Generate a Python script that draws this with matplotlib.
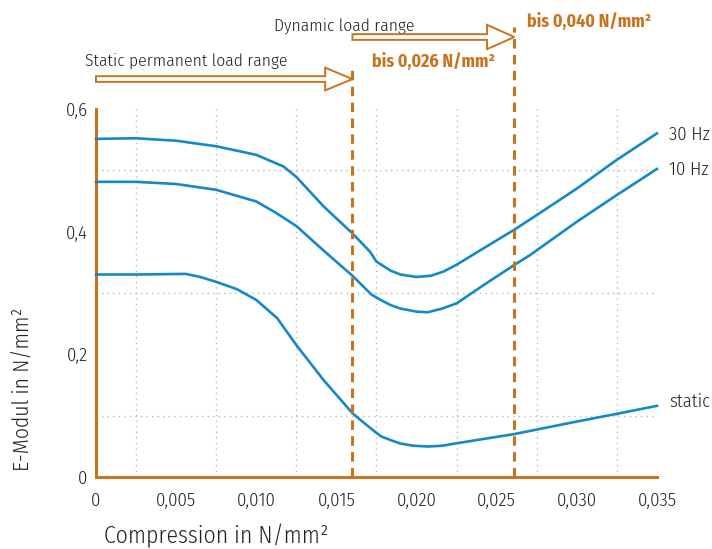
import matplotlib
matplotlib.use('Agg')
import matplotlib.pyplot as plt
from matplotlib.patches import FancyArrow
import numpy as np

plt.rcParams['font.family'] = ['Fira Sans Condensed', 'DejaVu Sans']
plt.rcParams['font.weight'] = 300

orange = '#c8731e'
blue = '#1589c8'
txt = '#222222'

# data
x_30hz = [0, 0.0025, 0.005, 0.0075, 0.010, 0.0117, 0.0125, 0.0142, 0.016, 0.0171, 0.0175,
          0.0184, 0.019, 0.020, 0.0209, 0.0217, 0.0225, 0.0242, 0.0261, 0.0271, 0.030, 0.0325, 0.035]
y_30hz = [0.551, 0.552, 0.548, 0.539, 0.525, 0.506, 0.489, 0.441, 0.397, 0.367, 0.351,
          0.336, 0.330, 0.326, 0.328, 0.335, 0.346, 0.373, 0.403, 0.420, 0.470, 0.517, 0.560]

x_10hz = [0, 0.0025, 0.005, 0.0075, 0.010, 0.0112, 0.0125, 0.0142, 0.016, 0.0172, 0.0178, 0.0184,
          0.019, 0.020, 0.0207, 0.0216, 0.0225, 0.0242, 0.0261, 0.0271, 0.030, 0.0325, 0.035]
y_10hz = [0.481, 0.481, 0.4775, 0.468, 0.449, 0.431, 0.409, 0.369, 0.328, 0.297, 0.288, 0.280,
          0.2745, 0.2695, 0.2685, 0.2745, 0.283, 0.313, 0.3456, 0.362, 0.416, 0.4596, 0.502]

x_static = [0, 0.0025, 0.0056, 0.0065, 0.0075, 0.0088, 0.010, 0.0113, 0.0125, 0.0142, 0.016, 0.0165,
            0.0173, 0.0178, 0.0184, 0.019, 0.0198, 0.0207, 0.0216, 0.0225, 0.0261, 0.030, 0.0325, 0.035]
y_static = [0.330, 0.330, 0.331, 0.326, 0.318, 0.306, 0.2886, 0.259, 0.215, 0.158, 0.104, 0.093,
            0.076, 0.066, 0.060, 0.0545, 0.051, 0.0497, 0.051, 0.055, 0.070, 0.0904, 0.103, 0.116]

series = [(x_30hz, y_30hz, '30 Hz', -0.003), (x_10hz, y_10hz, '10 Hz', -0.002),
          (x_static, y_static, 'static', 0.006)]

x_ticks = [0, 0.005, 0.010, 0.015, 0.020, 0.025, 0.030, 0.035]
x_ticklabels = ['0', '0,005', '0,010', '0,015', '0,020', '0,025', '0,030', '0,035']
y_ticks = [0, 0.2, 0.4, 0.6]
y_ticklabels = ['0', '0,2', '0,4', '0,6']

limit_static = 0.0160
limit_dynamic = 0.0261

fig = plt.figure(figsize=(7.12, 5.49), dpi=100)
ax = fig.add_axes([0.1348, 0.1311, 0.7879, 0.6707])

ax.set_xlim(0, 0.035)
ax.set_ylim(0, 0.6)
ax.set_xticks(x_ticks)
ax.set_xticklabels(x_ticklabels)
ax.set_yticks(y_ticks)
ax.set_yticklabels(y_ticklabels)
ax.set_xticks(np.arange(0, 0.0351, 0.0025), minor=True)
ax.set_yticks(np.arange(0, 0.61, 0.1), minor=True)
ax.grid(which='minor', color='#b8b8b8', linestyle=(0, (1, 3)), linewidth=1)
ax.tick_params(which='both', length=0, labelsize=13.5, colors=txt)
ax.tick_params(axis='x', pad=11)
ax.tick_params(axis='y', pad=6)

for s in ['top', 'right']:
    ax.spines[s].set_visible(False)
for s in ['left', 'bottom']:
    ax.spines[s].set_color(orange)
    ax.spines[s].set_linewidth(2.2)

for xs, ys, name, dy in series:
    ax.plot(xs, ys, color=blue, lw=1.9, zorder=3, clip_on=False)
    ax.text(xs[-1] + 0.00075, ys[-1] + dy, name, fontsize=13.5, color=txt, va='center', ha='left')

# dashed limit lines
ax.plot([limit_static, limit_static], [0, 0.672], color=orange, lw=2.2,
        dashes=(3.1, 2.1), clip_on=False, zorder=4)
ax.plot([limit_dynamic, limit_dynamic], [0, 0.734], color=orange, lw=2.2,
        dashes=(3.1, 2.1), clip_on=False, zorder=4)

# hollow arrows
for x0, x1, y, hw in [(0.0, limit_static, 0.6485, 0.037), (limit_static, limit_dynamic, 0.717, 0.0396)]:
    arr = FancyArrow(x0, y, x1 - x0, 0, width=0.0093, head_width=hw, head_length=0.0017,
                     length_includes_head=True, facecolor='white', edgecolor=orange, lw=1.4,
                     clip_on=False, zorder=5)
    ax.add_patch(arr)

ax.text(-0.0007, 0.671, 'Static permanent load range', fontsize=12.6, color=txt, va='baseline')
ax.text(0.0111, 0.728, 'Dynamic load range', fontsize=12.6, color=txt, va='baseline')
ax.text(0.01725, 0.668, 'bis 0,026 N/mm²', fontsize=12.8, color=orange, weight='bold', va='baseline')
ax.text(0.0269, 0.734, 'bis 0,040 N/mm²', fontsize=12.8, color=orange, weight='bold', va='baseline')

fig.text(0.303, 0.011, 'Compression in N/mm²', fontsize=17, color=txt, ha='center', va='baseline')
fig.text(0.032, 0.291, 'E-Modul in N/mm²', fontsize=15.5, color=txt, rotation=90, ha='center', va='center')

fig.savefig('out.png', dpi=100)
